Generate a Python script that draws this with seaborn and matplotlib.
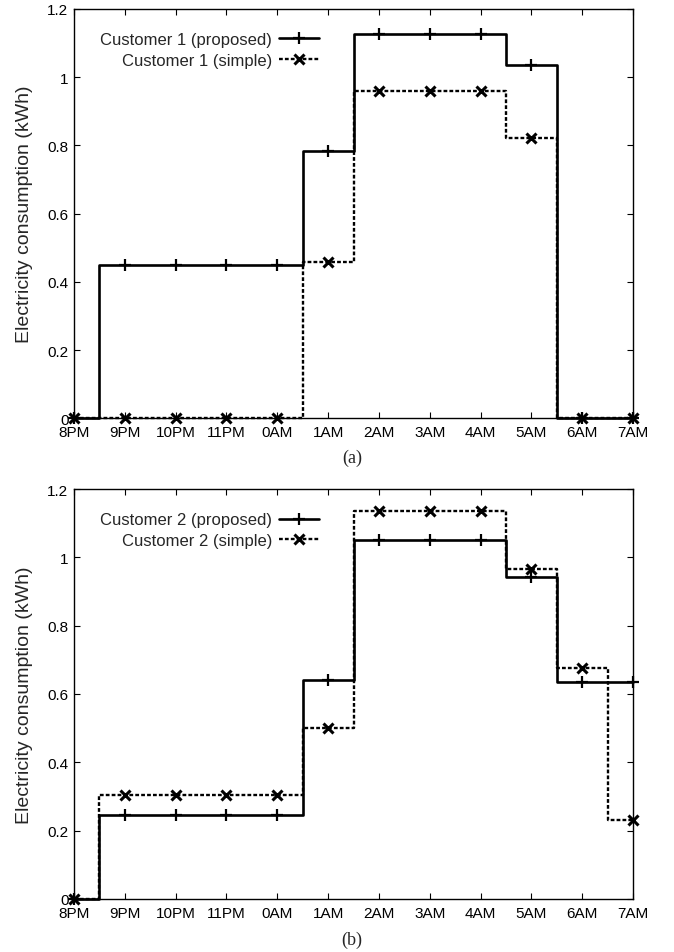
import numpy as np
import pandas as pd
import matplotlib
matplotlib.use("Agg")
import matplotlib.pyplot as plt
import seaborn as sns

hours = ["8PM", "9PM", "10PM", "11PM", "0AM", "1AM", "2AM", "3AM", "4AM", "5AM", "6AM", "7AM"]
c1_proposed = [0.0, 0.45, 0.45, 0.45, 0.45, 0.785, 1.127, 1.127, 1.127, 1.035, 0.0, 0.0]
c1_simple = [0.0, 0.0, 0.0, 0.0, 0.0, 0.458, 0.960, 0.960, 0.960, 0.823, 0.0, 0.0]
c2_proposed = [0.0, 0.246, 0.246, 0.246, 0.246, 0.642, 1.052, 1.052, 1.052, 0.942, 0.636, 0.636]
c2_simple = [0.0, 0.305, 0.305, 0.305, 0.305, 0.500, 1.135, 1.135, 1.135, 0.966, 0.677, 0.232]
yticks = [0, 0.2, 0.4, 0.6, 0.8, 1.0, 1.2]
ytick_labels = ["0", "0.2", "0.4", "0.6", "0.8", "1", "1.2"]
panel_labels = ["(a)", "(b)"]
series_names = [("Customer 1 (proposed)", "Customer 1 (simple)"),
                ("Customer 2 (proposed)", "Customer 2 (simple)")]

sns.set_style("ticks")
plt.rcParams["font.family"] = ["Liberation Sans", "DejaVu Sans"]
plt.rcParams["xtick.direction"] = "in"
plt.rcParams["ytick.direction"] = "in"

fig = plt.figure(figsize=(6.74, 9.53), dpi=100)
ax_top = fig.add_axes([74 / 674, 1 - 419.3 / 953, 559 / 674, 409.3 / 953])
ax_bot = fig.add_axes([74 / 674, 1 - 900 / 953, 559 / 674, 410 / 953])

x = np.arange(len(hours))
datasets = [(c1_proposed, c1_simple), (c2_proposed, c2_simple)]

for ax, (prop, simp), names in zip([ax_top, ax_bot], datasets, series_names):
    df = pd.DataFrame({"x": x, "proposed": prop, "simple": simp})
    sns.lineplot(data=df, x="x", y="proposed", ax=ax, color="black", lw=1.9,
                 drawstyle="steps-mid", marker="+", markersize=8,
                 markeredgecolor="black", markeredgewidth=1.6,
                 label=names[0], clip_on=False, zorder=3)
    sns.lineplot(data=df, x="x", y="simple", ax=ax, color="black", lw=1.7,
                 linestyle=(0, (1.6, 0.9)),
                 drawstyle="steps-mid", marker="x", markersize=7.5,
                 markeredgecolor="black", markeredgewidth=2.2,
                 label=names[1], clip_on=False, zorder=3)
    ax.set_xlim(0, len(hours) - 1)
    ax.set_ylim(0, 1.2)
    ax.set_xticks(x)
    ax.set_xticklabels(hours)
    ax.set_yticks(yticks)
    ax.set_yticklabels(ytick_labels)
    ax.tick_params(axis="both", which="both", direction="in", top=True, right=True,
                   length=4.3, width=0.8, labelsize=11, colors="black")
    ax.tick_params(axis="y", pad=4)
    ax.tick_params(axis="x", pad=5)
    for s in ax.spines.values():
        s.set_visible(True)
        s.set_linewidth(1.0)
        s.set_color("black")
    ax.set_xlabel("")
    ax.set_ylabel("Electricity consumption (kWh)", fontsize=14)
    ax.yaxis.set_label_coords(-0.073, 0.5)
    ax.legend(loc="upper right", bbox_to_anchor=(0.4383, 0.943), frameon=False,
              markerfirst=False, fontsize=12, handlelength=2.4,
              handletextpad=0.42, labelspacing=0.34, borderaxespad=0.0, borderpad=0.0)

fig.text(352 / 674, 1 - 458 / 953, panel_labels[0], ha="center", va="center",
         fontsize=13, family=["Liberation Serif", "DejaVu Serif"])
fig.text(352 / 674, 1 - 940 / 953, panel_labels[1], ha="center", va="center",
         fontsize=13, family=["Liberation Serif", "DejaVu Serif"])

fig.savefig("out.png", dpi=100)
